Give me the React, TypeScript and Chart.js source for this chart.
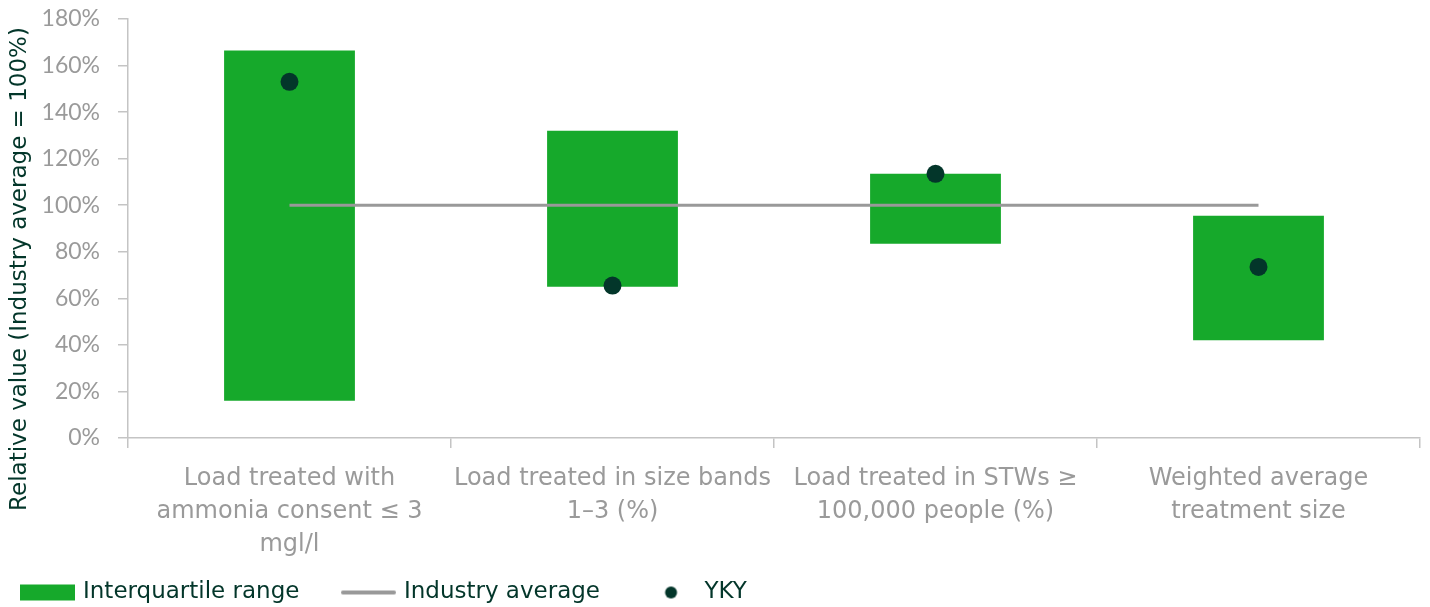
import React, { useEffect, useRef } from "react";
import { Chart, registerables } from "chart.js";

Chart.register(...registerables);

const categories: string[][] = [
  ["Load treated with", "ammonia consent ≤ 3", "mgl/l"],
  ["Load treated in size bands", "1–3 (%)"],
  ["Load treated in STWs ≥", "100,000 people (%)"],
  ["Weighted average", "treatment size"],
];
const iqrLow = [16, 65, 83.5, 42];
const iqrHigh = [166.5, 132, 113.5, 95.5];
const industryAverage = [100, 100, 100, 100];
const ykyValues = [153, 65.5, 113.5, 73.5];
const seriesNames = ["Interquartile range", "Industry average", "YKY"];
const yAxisTitle = "Relative value (Industry average = 100%)";
const yMin = 0;
const yMax = 180;
const yStep = 20;

const GREEN = "#16a92b";
const GREY = "#999999";
const DARK = "#03362a";
const TICK_GREY = "#9a9a9a";
const AXIS_GREY = "#c4c4c4";
const FONT = "DejaVu Sans";
const TICK_FONT = "Lato";

function makeIcon(kind: "rect" | "line" | "dot"): HTMLCanvasElement {
  const c = document.createElement("canvas");
  c.width = 55;
  c.height = 18;
  const g = c.getContext("2d")!;
  if (kind === "rect") {
    g.fillStyle = GREEN;
    g.fillRect(0, 1, 55, 16);
  } else if (kind === "line") {
    g.strokeStyle = GREY;
    g.lineWidth = 4;
    g.lineCap = "round";
    g.beginPath();
    g.moveTo(2, 9);
    g.lineTo(53, 9);
    g.stroke();
  } else {
    g.fillStyle = DARK;
    g.beginPath();
    g.arc(29.5, 9, 6, 0, Math.PI * 2);
    g.fill();
  }
  return c;
}

const LEGEND_PAD = 45;

const legendPlacer = {
  id: "legendPlacer",
  afterLayout(chart: any) {
    const lg = chart.legend;
    if (!lg) return;
    lg.left = 23.5 - LEGEND_PAD;
    lg.top = 581 - LEGEND_PAD;
  },
};

// y-axis title, centred on the plot + category label block as in the reference
const yTitlePlugin = {
  id: "yTitle",
  afterDraw(chart: any) {
    const ctx = chart.ctx;
    ctx.save();
    ctx.translate(20, 269);
    ctx.rotate(-Math.PI / 2);
    ctx.font = `23px "${FONT}"`;
    ctx.fillStyle = DARK;
    ctx.textAlign = "center";
    ctx.textBaseline = "middle";
    ctx.fillText(yAxisTitle, 0, 0);
    ctx.restore();
  },
};

export default function App() {
  const ref = useRef<HTMLCanvasElement | null>(null);

  useEffect(() => {
    if (!ref.current) return;
    const icons = [makeIcon("rect"), makeIcon("line"), makeIcon("dot")];
    const chart = new Chart(ref.current, {
      type: "bar",
      data: {
        labels: categories as any,
        datasets: [
          {
            type: "bar",
            label: seriesNames[0],
            data: iqrLow.map((lo, i) => [lo, iqrHigh[i]]) as any,
            backgroundColor: GREEN,
            borderWidth: 0,
            barPercentage: 0.405,
            categoryPercentage: 1,
            order: 3,
          },
          {
            type: "line",
            label: seriesNames[1],
            data: industryAverage,
            borderColor: GREY,
            backgroundColor: GREY,
            borderWidth: 3,
            pointRadius: 0,
            fill: false,
            order: 2,
          },
          {
            type: "line",
            label: seriesNames[2],
            data: ykyValues,
            showLine: false,
            pointRadius: 9,
            pointHoverRadius: 9,
            pointBackgroundColor: DARK,
            pointBorderWidth: 0,
            borderColor: DARK,
            backgroundColor: DARK,
            order: 1,
          } as any,
        ],
      },
      options: {
        animation: false,
        responsive: true,
        maintainAspectRatio: false,
        layout: { padding: { left: 0, right: 10, top: 19, bottom: 0 } },
        plugins: {
          tooltip: { enabled: false },
          legend: {
            position: "bottom",
            align: "start",
            maxHeight: 40,
            labels: {
              usePointStyle: true,
              pointStyleWidth: 48,
              boxHeight: 18,
              padding: LEGEND_PAD,
              color: DARK,
              font: { family: FONT, size: 23 },
              generateLabels: () =>
                seriesNames.map((t, i) => ({
                  text: t,
                  pointStyle: icons[i] as any,
                  fillStyle: "transparent",
                  strokeStyle: "transparent",
                  lineWidth: 0,
                  hidden: false,
                  datasetIndex: i,
                  fontColor: DARK,
                })),
            },
          },
        },
        scales: {
          x: {
            type: "category",
            offset: true,
            grid: {
              offset: true,
              drawOnChartArea: false,
              drawTicks: true,
              tickLength: 10,
              color: AXIS_GREY,
              lineWidth: 1.5,
            },
            border: { color: AXIS_GREY, width: 1.5 },
            ticks: {
              color: TICK_GREY,
              font: { family: FONT, size: 24, lineHeight: 1.375 },
              padding: 14,
              maxRotation: 0,
              minRotation: 0,
              autoSkip: false,
            },
            afterFit: (s: any) => {
              s.height = 129;
            },
          },
          y: {
            min: yMin,
            max: yMax,
            grid: {
              drawOnChartArea: false,
              drawTicks: true,
              tickLength: 10,
              color: AXIS_GREY,
              lineWidth: 1.5,
            },
            border: { color: AXIS_GREY, width: 1.5 },
            ticks: {
              stepSize: yStep,
              color: TICK_GREY,
              font: { family: TICK_FONT, size: 23 },
              padding: 18,
              callback: (v: any) => `${v}%`,
            },
            title: { display: false },
            afterFit: (s: any) => {
              s.width = 128;
              s.paddingTop = 0;
              s.paddingBottom = 0;
            },
          },
        },
      },
      plugins: [legendPlacer, yTitlePlugin],
    });
    return () => chart.destroy();
  }, []);

  return (
    <div style={{ position: "fixed", left: 0, top: 0, width: 1430, height: 607 }}>
      <canvas ref={ref} />
    </div>
  );
}
